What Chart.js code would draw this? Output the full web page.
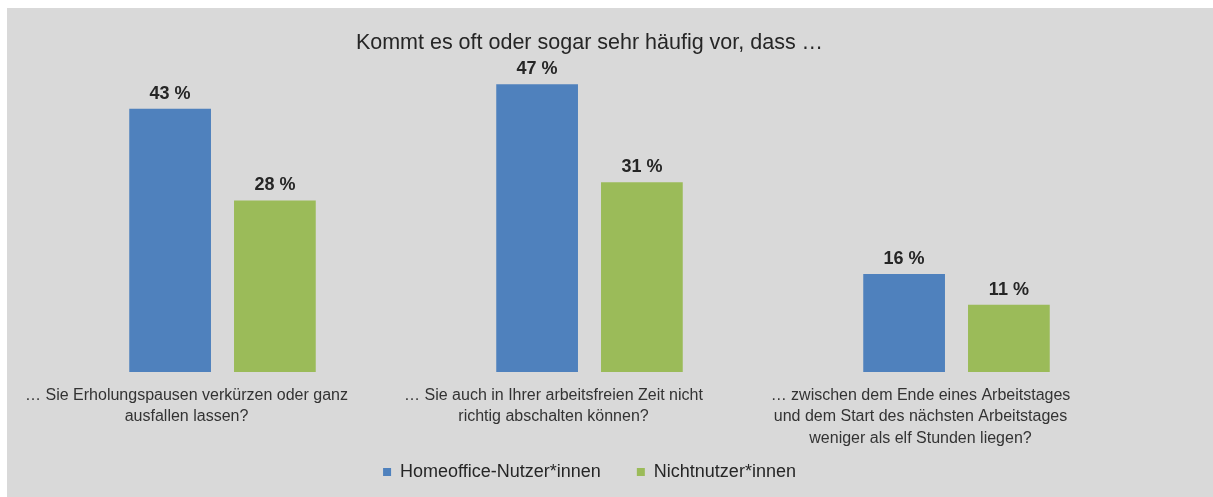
<!DOCTYPE html>
<html>
<head>
<meta charset="utf-8">
<script src="https://cdn.jsdelivr.net/npm/chart.js@4.4.1/dist/chart.umd.min.js"></script>
<style>
  html, body { margin: 0; padding: 0; background: #ffffff; }
  #wrap { position: absolute; left: 7px; top: 8px; width: 1206px; height: 489px; background: #d9d9d9; }
</style>
</head>
<body>
<div id="wrap"><canvas id="chart"></canvas></div>
<script>
// chart values
const titleText = 'Kommt es oft oder sogar sehr häufig vor, dass …';
const categories = [
    ['… Sie Erholungspausen verkürzen oder ganz', 'ausfallen lassen?'],
    ['… Sie auch in Ihrer arbeitsfreien Zeit nicht', 'richtig abschalten können?'],
    ['… zwischen dem Ende eines Arbeitstages', 'und dem Start des nächsten Arbeitstages', 'weniger als elf Stunden liegen?']
];
const seriesNames = ['Homeoffice-Nutzer*innen', 'Nichtnutzer*innen'];
const homeoffice = [43, 47, 16];
const nichtnutzer = [28, 31, 11];

const textColor = '#262626';
const fontFamily = '"Liberation Sans", Arial, sans-serif';

// draws "43 %" above each bar
const valueLabels = {
    id: 'valueLabels',
    afterLayout(chart) {
        // tick labels run into the (empty) top of the legend box, don't clip them
        chart.scales.x.bottom = chart.height;
    },
    afterDatasetsDraw(chart) {
        const ctx = chart.ctx;
        ctx.save();
        ctx.font = 'bold 18px ' + fontFamily;
        ctx.fillStyle = textColor;
        ctx.textAlign = 'center';
        ctx.textBaseline = 'middle';
        chart.data.datasets.forEach((ds, i) => {
            chart.getDatasetMeta(i).data.forEach((bar, j) => {
                ctx.fillText(ds.data[j] + ' %', bar.x, bar.y - 15);
            });
        });
        ctx.restore();
    }
};

const ctx = document.getElementById('chart').getContext('2d');
new Chart(ctx, {
    type: 'bar',
    data: {
        labels: categories,
        datasets: [
            {
                label: seriesNames[0],
                data: homeoffice,
                backgroundColor: '#4f81bd',
                barPercentage: 0.78,
                categoryPercentage: 0.571
            },
            {
                label: seriesNames[1],
                data: nichtnutzer,
                backgroundColor: '#9bbb59',
                barPercentage: 0.78,
                categoryPercentage: 0.571
            }
        ]
    },
    options: {
        responsive: true,
        maintainAspectRatio: false,
        animation: false,
        layout: { padding: { left: 32, right: 73, top: 0, bottom: 6 } },
        scales: {
            x: {
                grid: { display: false, drawTicks: false },
                border: { display: false },
                ticks: {
                    color: '#333333',
                    padding: 13,
                    labelOffset: -36,
                    maxRotation: 0,
                    autoSkip: false,
                    font: { family: fontFamily, size: 16, lineHeight: 1.33 }
                },
                afterFit: (scale) => { scale.height = 55; }
            },
            y: {
                display: false,
                min: 0,
                max: 50
            }
        },
        plugins: {
            title: {
                display: true,
                text: titleText,
                color: textColor,
                font: { family: fontFamily, size: 21.5, weight: 'normal', lineHeight: 1.2 },
                padding: { top: 22, bottom: 10 }
            },
            legend: {
                position: 'bottom',
                labels: {
                    color: textColor,
                    boxWidth: 8,
                    boxHeight: 8,
                    padding: 36,
                    font: { family: fontFamily, size: 18 }
                }
            },
            tooltip: { enabled: false }
        }
    },
    plugins: [valueLabels]
});
</script>
</body>
</html>
